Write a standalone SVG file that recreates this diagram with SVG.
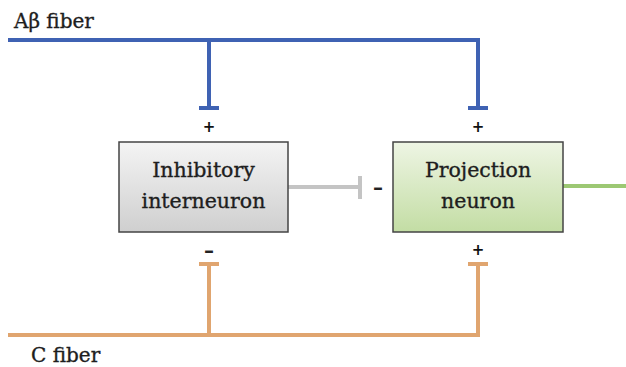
<svg xmlns="http://www.w3.org/2000/svg" width="626" height="367" viewBox="0 0 626 367">
<defs>
<linearGradient id="gGray" x1="0" y1="0" x2="0" y2="1">
<stop offset="0" stop-color="#f4f4f4"/><stop offset="1" stop-color="#cfcfcf"/>
</linearGradient>
<linearGradient id="gGreen" x1="0" y1="0" x2="0" y2="1">
<stop offset="0" stop-color="#eef5e4"/><stop offset="1" stop-color="#c3dda4"/>
</linearGradient>
</defs>
<style>
.lbl{font-family:"DejaVu Serif","Liberation Serif",serif;fill:#1e1e1e;stroke:#1e1e1e;stroke-width:0.35;}
.box{stroke:#444;stroke-width:1.5;}
.blue{stroke:#3f62b3;stroke-width:4;fill:none;}
.orange{stroke:#e0a56f;stroke-width:4;fill:none;}
.sign{font-family:"DejaVu Sans","Liberation Sans",sans-serif;font-size:15px;font-weight:bold;fill:#111;text-anchor:middle;}
.dash{font-family:"DejaVu Sans","Liberation Sans",sans-serif;font-size:20px;font-weight:bold;fill:#222;text-anchor:middle;}
</style>
<g id="connectors">
<path class="blue" d="M8 40 H478 V108 M209 40 V108 M199 108 H219 M468 108 H488"/>
<path class="orange" d="M8 335 H478 V264 M209 335 V264 M199 264 H219 M468 264 H488"/>
<path d="M288 187 H359" stroke="#c4c4c4" stroke-width="4" fill="none"/>
<path d="M360 176 V199" stroke="#c4c4c4" stroke-width="4" fill="none"/>
<path d="M563 186 H626" stroke="#9cc873" stroke-width="4" fill="none"/>
<text class="sign" x="209" y="132">+</text>
<text class="sign" x="478" y="132">+</text>
<text class="dash" x="378" y="194">–</text>
<text class="dash" x="209" y="257">–</text>
<text class="sign" x="478" y="255">+</text>
</g>
<g id="abeta">
<text class="lbl" x="14" y="28" font-size="20">Aβ fiber</text>
</g>
<g id="cfiber">
<text class="lbl" x="31" y="362" font-size="20">C fiber</text>
</g>
<g id="inhibitory">
<rect class="box" x="119" y="142" width="169" height="90" fill="url(#gGray)"/>
<text class="lbl" x="203.5" y="177" font-size="20.5" text-anchor="middle">Inhibitory</text>
<text class="lbl" x="203.5" y="208" font-size="20.5" text-anchor="middle">interneuron</text>
</g>
<g id="projection">
<rect class="box" x="393" y="142" width="170" height="90" fill="url(#gGreen)"/>
<text class="lbl" x="478" y="177" font-size="20.5" text-anchor="middle">Projection</text>
<text class="lbl" x="478" y="208" font-size="20.5" text-anchor="middle">neuron</text>
</g>
</svg>
